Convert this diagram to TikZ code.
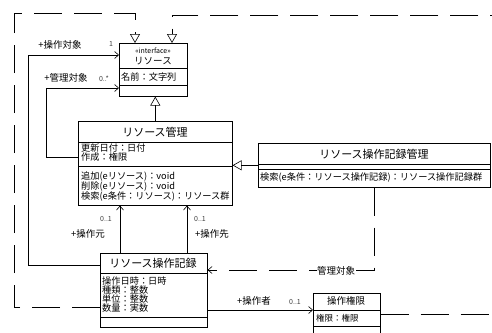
\documentclass[tikz,border=0pt]{standalone}
\usepackage{fontspec}
\setmainfont{Noto Sans CJK JP}
\usetikzlibrary{arrows.meta,calc}
\begin{document}
\begin{tikzpicture}[x=1pt,y=-1pt,
  cls/.style={draw, line width=0.6pt, inner sep=0pt, anchor=north west},
  ttl/.style={font=\fontsize{11}{12}\selectfont, inner sep=0pt},
  ttlsm/.style={font=\fontsize{9.5}{10}\selectfont, inner sep=0pt},
  ster/.style={font=\fontsize{7}{8}\selectfont, inner sep=0pt},
  mem/.style={font=\fontsize{9.2}{10}\selectfont, inner sep=0pt, anchor=west},
  memsm/.style={font=\fontsize{8.5}{9}\selectfont, inner sep=0pt, anchor=west},
  lbl/.style={font=\fontsize{9.5}{10}\selectfont, inner sep=0.5pt},
  mult/.style={font=\fontsize{7}{8}\selectfont, inner sep=0.5pt, text=black!75},
  ln/.style={line width=0.6pt},
  gen/.style={ln, -{Triangle[open, length=9pt, width=10pt]}},
  real/.style={gen, dash pattern=on 28pt off 12pt},
  nav/.style={ln, -{Straight Barb[length=4pt, width=7pt]}},
  dep/.style={nav, dash pattern=on 28pt off 12pt}]
\fill[white] (0,0) rectangle (492,332);
\useasboundingbox (0,0) rectangle (492,332);

% ---------- classes ----------
\node[cls, minimum width=68pt, minimum height=53pt] (ifc) at (119,43) {};
\draw[ln] ($(ifc.north west)+(0,25)$) -- ($(ifc.north east)+(0,25)$);
\draw[ln] ($(ifc.north west)+(0,42)$) -- ($(ifc.north east)+(0,42)$);
\node[ster] (ifcS) at (153,51) {«interface»};
\node[ttlsm] (ifcT) at (153,61) {リソース};
\node[mem] (ifcA) at (121,77) {名前：文字列};

\node[cls, minimum width=154pt, minimum height=84pt] (rm) at (78,121) {};
\draw[ln] ($(rm.north west)+(0,21)$) -- ($(rm.north east)+(0,21)$);
\draw[ln] ($(rm.north west)+(0,45)$) -- ($(rm.north east)+(0,45)$);
\node[ttl] (rmT) at (155,132) {リソース管理};
\node[mem] (rmA1) at (81,148) {更新日付：日付};
\node[mem] (rmA2) at (81,157) {作成：権限};
\node[mem] (rmO1) at (81,177) {追加(eリソース)：void};
\node[mem] (rmO2) at (81,187) {削除(eリソース)：void};
\node[mem] (rmO3) at (81,197) {検索(e条件：リソース)：リソース群};

\node[cls, minimum width=232pt, minimum height=44pt] (rmm) at (258,143) {};
\draw[ln] ($(rmm.north west)+(0,21)$) -- ($(rmm.north east)+(0,21)$);
\draw[ln] ($(rmm.north west)+(0,26)$) -- ($(rmm.north east)+(0,26)$);
\node[ttl] (rmmT) at (374,154) {リソース操作記録管理};
\node[mem] (rmmO) at (260,178) {検索(e条件：リソース操作記録)：リソース操作記録群};

\node[cls, minimum width=107pt, minimum height=74pt] (ol) at (100,253) {};
\draw[ln] ($(ol.north west)+(0,20)$) -- ($(ol.north east)+(0,20)$);
\draw[ln] ($(ol.north west)+(0,64)$) -- ($(ol.north east)+(0,64)$);
\node[ttl] (olT) at (153,263) {リソース操作記録};
\node[mem] (olA1) at (102,281) {操作日時：日時};
\node[mem] (olA2) at (102,290) {種類：整数};
\node[mem] (olA3) at (102,299) {単位：整数};
\node[mem] (olA4) at (102,308) {数量：実数};

\node[cls, minimum width=67pt, minimum height=52pt] (op) at (313,293) {};
\draw[ln] ($(op.north west)+(0,17)$) -- ($(op.north east)+(0,17)$);
\draw[ln] ($(op.north west)+(0,33)$) -- ($(op.north east)+(0,33)$);
\node[ttlsm] (opT) at (346,301) {操作権限};
\node[memsm] (opA) at (316,318) {権限：権限};

% ---------- helper coordinates ----------
\coordinate (c55) at (0,55);
\coordinate (c88) at (0,88);
\coordinate (c157) at (0,157);
\coordinate (c265) at (0,265);
\coordinate (c270) at (0,270);
\coordinate (c307) at (0,307);
\coordinate (c310) at (0,310);
\coordinate (c314) at (0,314);
\coordinate (x28) at (28,0);
\coordinate (x46) at (46,0);
\coordinate (x120) at (120,0);
\coordinate (x187) at (187,0);
\coordinate (x135) at (135,0);
\coordinate (x172) at (172,0);
\coordinate (k1) at (14,13);
\coordinate (k2) at (500,15);

% ---------- connectors ----------
\draw[gen] (rm.north) -- (rm.north |- ifc.south);
\draw[gen] (rmm.west) -- (rm.east |- rmm.west);
\draw[real] (ol.west |- c307) -- (k1 |- c307) -- (k1) -- (x135 |- k1) -- (ifc.north -| x135);
\draw[real] (op.east |- c314) -- (k2 |- c314) -- (k2) -- (x172 |- k2) -- (ifc.north -| x172);
\draw[nav] (ol.west |- c265) -- (x28 |- c265) -- (x28 |- c55) -- (ifc.west |- c55);
\draw[nav] (rm.west |- c157) -- (x46 |- c157) -- (x46 |- c88) -- (ifc.west |- c88);
\draw[nav] (ol.north -| x120) -- (rm.south -| x120);
\draw[nav] (ol.north -| x187) -- (rm.south -| x187);
\draw[nav] (ol.east |- c310) -- (op.west |- c310);
\draw[dep] (rmm.south) -- (rmm.south |- c270) -- (ol.east |- c270);

% ---------- labels ----------
\node[lbl] (l1) at (60,45) {+操作対象};
\node[mult] (l1m) at (111,44) {1};
\node[lbl] (l2) at (66,78) {+管理対象};
\node[mult] (l2m) at (104,79) {0..*};
\node[mult] (l3m) at (106,219) {0..1};
\node[lbl] (l3) at (88,234) {+操作元};
\node[mult] (l4m) at (200,219) {0..1};
\node[lbl] (l4) at (212,234) {+操作先};
\node[lbl] (l5) at (254,301) {+操作者};
\node[mult] (l5m) at (295,302) {0..1};
\node[lbl, fill=white] (l6) at (336,271) {管理対象};
\end{tikzpicture}
\end{document}
